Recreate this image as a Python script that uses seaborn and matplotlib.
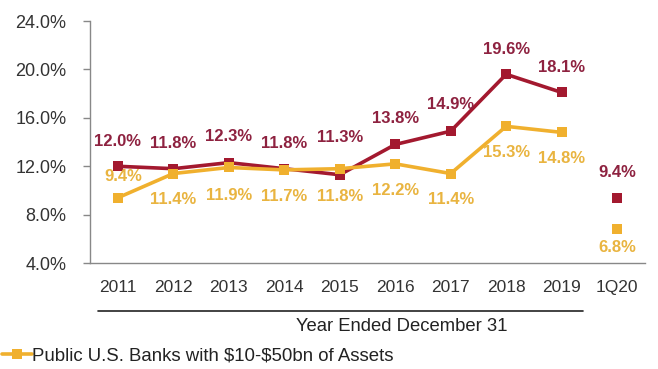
import matplotlib
matplotlib.use("Agg")
import matplotlib.pyplot as plt
import matplotlib.transforms as mtransforms
from matplotlib.lines import Line2D
import numpy as np
import pandas as pd
import seaborn as sns

# Return on tangible common equity by year
periods = ["2011", "2012", "2013", "2014", "2015", "2016", "2017", "2018", "2019", "1Q20"]
company = [12.0, 11.8, 12.3, 11.8, 11.3, 13.8, 14.9, 19.6, 18.1, 9.4]
peers = [9.4, 11.4, 11.9, 11.7, 11.8, 12.2, 11.4, 15.3, 14.8, 6.8]
y_ticks = [4.0, 8.0, 12.0, 16.0, 20.0, 24.0]
axis_title = "Year Ended December 31"
peer_name = r"Public U.S. Banks with \$10-\$50bn of Assets"
company_name = "Company"

RED = "#A3192F"
ORANGE = "#F0B02E"
RED_TXT = "#8E2240"
ORANGE_TXT = "#E9B440"
GREY = "#333333"

sns.set_theme(style="white")
plt.rcParams["font.family"] = ["Liberation Sans", "DejaVu Sans"]

n_year = 9  # full years joined by a line; the quarter stands alone
x = np.arange(len(periods))
annual = pd.DataFrame({
    "x": np.concatenate([x[:n_year], x[:n_year]]),
    "value": company[:n_year] + peers[:n_year],
    "series": [company_name] * n_year + [peer_name] * n_year,
})
quarter = pd.DataFrame({
    "x": [x[-1], x[-1]],
    "value": [company[-1], peers[-1]],
    "series": [company_name, peer_name],
})
palette = {company_name: RED, peer_name: ORANGE}
order = [company_name, peer_name]  # peers drawn on top

fig = plt.figure(figsize=(6.58, 3.69), dpi=100)
ax = fig.add_axes([0.137, 0.287, 0.843, 0.656])

sns.lineplot(data=annual, x="x", y="value", hue="series", palette=palette,
             hue_order=order, marker="s", markersize=7,
             markeredgewidth=0, linewidth=2.6, legend=False, ax=ax)
sns.scatterplot(data=quarter, x="x", y="value", hue="series", palette=palette,
                hue_order=order, marker="s", s=52,
                linewidth=0, legend=False, ax=ax)

# value labels (offsets in points)
red_off = [18, 18, 19, 18, 27, 19, 19, 18, 18, 18]
org_off = [15, -19, -20, -19, -20, -19, -19, -19, -19, -13]
org_dx = [4, 0, 0, 0, 0, 0, 0, 0, 0, 0]
for i in range(len(periods)):
    ax.annotate(f"{company[i]:.1f}%", (x[i], company[i]), xytext=(0, red_off[i]),
                textcoords="offset points", ha="center", va="center",
                fontsize=12, fontweight="bold", color=RED_TXT)
    ax.annotate(f"{peers[i]:.1f}%", (x[i], peers[i]), xytext=(org_dx[i], org_off[i]),
                textcoords="offset points", ha="center", va="center",
                fontsize=12, fontweight="bold", color=ORANGE_TXT)

ax.set_xlim(-0.5, len(periods) - 0.5)
ax.set_ylim(4.0, 24.0)
ax.set_yticks(y_ticks)
ax.set_yticklabels([f"{v:.1f}%" for v in y_ticks], fontsize=13, color=GREY)
ax.set_xticks(x)
ax.set_xticklabels(periods, fontsize=12.5, color=GREY)
ax.set_xticks(np.arange(-0.5, len(periods)), minor=True)
ax.tick_params(axis="x", which="major", length=0, pad=12)
ax.tick_params(axis="x", which="minor", direction="in", length=5, color="#888888", width=1)
ax.tick_params(axis="y", which="major", direction="out", length=5, color="#888888", width=1, left=True, pad=12)
ax.set_xlabel("")
ax.set_ylabel("")
for side in ["top", "right"]:
    ax.spines[side].set_visible(False)
for side in ["left", "bottom"]:
    ax.spines[side].set_color("#888888")
    ax.spines[side].set_linewidth(1)

# bracket under the full-year labels
trans = mtransforms.blended_transform_factory(ax.transData, ax.transAxes)
ax.plot([-0.36, 8.38], [-0.198, -0.198], color="#222222", lw=1.2,
        transform=trans, clip_on=False)
ax.text(5.12, -0.262, axis_title, transform=trans, ha="center", va="center",
        fontsize=13.3, color="#222222")

handle = Line2D([0], [0], color=ORANGE, lw=2.6, marker="s", markersize=7,
                markeredgewidth=0)
fig.legend(handles=[handle], labels=[peer_name], loc="center left",
           bbox_to_anchor=(-0.022, 0.036), frameon=False, fontsize=13.4,
           handlelength=1.6, handletextpad=0.0, labelcolor="#222222")

fig.savefig("out.png", dpi=100)
